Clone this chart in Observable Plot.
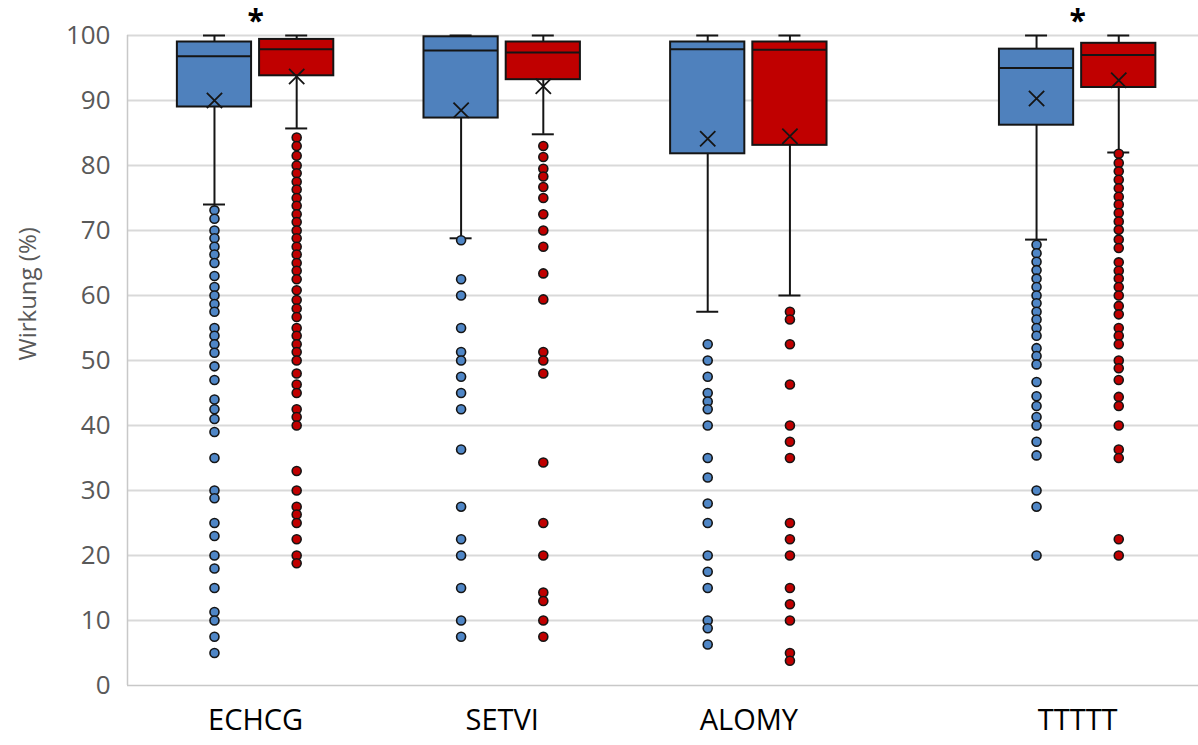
<!DOCTYPE html>
<html>
<head>
<meta charset="utf-8">
<script src="https://cdn.jsdelivr.net/npm/d3@7"></script>
<script src="https://cdn.jsdelivr.net/npm/@observablehq/plot@0.6"></script>
<style>
  html, body { margin: 0; padding: 0; background: #fff; }
  #chart svg { display: block; }
</style>
</head>
<body>
<div id="chart"></div>
<script>
// ---- data ----
const categories = ["ECHCG", "SETVI", "ALOMY", "TTTTT"];
const seriesNames = ["Serie 1", "Serie 2"];
const significant = ["ECHCG", "TTTTT"];
const yTicks = [0, 10, 20, 30, 40, 50, 60, 70, 80, 90, 100];
const yTitle = "Wirkung (%)";

const blueMax    = [100, 100, 100, 100];
const blueQ3     = [99.0, 99.8, 99.0, 97.9];
const blueMedian = [96.8, 97.7, 97.9, 95.0];
const blueQ1     = [89.0, 87.3, 81.8, 86.2];
const blueMin    = [74.0, 68.8, 57.5, 68.6];
const blueMean   = [90.0, 88.5, 84.1, 90.3];

const redMax    = [100, 100, 100, 100];
const redQ3     = [99.4, 99.0, 99.0, 98.8];
const redMedian = [97.9, 97.4, 97.8, 97.0];
const redQ1     = [93.8, 93.2, 83.1, 92.0];
const redMin    = [85.7, 84.8, 60.0, 82.0];
const redMean   = [93.7, 92.2, 84.5, 93.1];

const blueOutECHCG = [73.1, 71.8, 70, 68.8, 67.5, 66.3, 65, 63, 61.3, 60, 58.7, 57.5, 55, 53.8, 52.5, 51.2, 49.1, 47, 44, 42.5, 41, 39, 35, 30, 28.8, 25, 23, 20, 18, 15, 11.3, 10, 7.5, 5];
const redOutECHCG  = [84.3, 83, 81.5, 80, 78.8, 77.5, 76.3, 75, 73.8, 72.5, 71.3, 70, 68.8, 67.5, 66.3, 65, 63.8, 62.5, 60.8, 59.3, 58, 56.7, 55, 53.8, 52.5, 51.3, 50, 48, 46.3, 45, 42.5, 41.3, 40, 33, 30, 27.5, 26.3, 25, 22.5, 20, 18.8];
const blueOutSETVI = [68.5, 62.5, 60, 55, 51.3, 50, 47.5, 45, 42.5, 36.3, 27.5, 22.5, 20, 15, 10, 7.5];
const redOutSETVI  = [83, 81.3, 79.5, 78.3, 76.7, 75, 72.5, 70, 67.5, 63.4, 59.4, 51.3, 50, 48, 34.3, 25, 20, 14.3, 13, 10, 7.5];
const blueOutALOMY = [52.5, 50, 47.5, 45, 43.7, 42.5, 40, 35, 32, 28, 25, 20, 17.5, 15, 10, 8.8, 6.3];
const redOutALOMY  = [57.5, 56.3, 52.5, 46.3, 40, 37.5, 35, 25, 22.5, 20, 15, 12.5, 10, 5, 3.8];
const blueOutTTTTT = [67.8, 66.5, 65.2, 63.9, 62.6, 61.3, 60, 58.8, 57.5, 56.3, 55, 53.8, 51.9, 50.7, 49.4, 46.7, 44.5, 43, 41.3, 40, 37.5, 35.4, 30, 27.5, 20];
const redOutTTTTT  = [81.8, 80.4, 79.1, 77.8, 76.5, 75.2, 74, 72.7, 71.4, 70.1, 68.6, 67.3, 65.1, 63.8, 62.6, 61.3, 60, 58.4, 57.1, 55, 53.8, 52.5, 50, 48.8, 47, 44.4, 43, 40, 36.3, 35, 22.5, 20];

// ---- layout (not data) ----
const colors = ["#4F81BD", "#C00000"];
const dotColors = ["#4F86C6", "#C00000"];
const groupSlot = [0, 3, 6, 10];   // first box slot of each category on the x axis
const xDomain = [-0.558, 12.47];

// ---- build tables ----
const blueStats = {min: blueMin, q1: blueQ1, median: blueMedian, q3: blueQ3, max: blueMax, mean: blueMean};
const redStats  = {min: redMin, q1: redQ1, median: redMedian, q3: redQ3, max: redMax, mean: redMean};
const outliers = [
  [blueOutECHCG, redOutECHCG],
  [blueOutSETVI, redOutSETVI],
  [blueOutALOMY, redOutALOMY],
  [blueOutTTTTT, redOutTTTTT]
];

const stats = categories.flatMap((cat, ci) => [blueStats, redStats].map((s, si) => ({
  cat, series: seriesNames[si], slot: groupSlot[ci] + si,
  min: s.min[ci], q1: s.q1[ci], median: s.median[ci], q3: s.q3[ci], max: s.max[ci], mean: s.mean[ci]
})));
const outRows = categories.flatMap((cat, ci) => outliers[ci].flatMap((vals, si) =>
  vals.map(v => ({cat, series: seriesNames[si], slot: groupSlot[ci] + si, value: v}))));
const sigRows = significant.map(c => ({cat: c, center: groupSlot[categories.indexOf(c)] + 1}));

const center = d => d.slot + 0.5;
const ink = "#151515";
const lw = 2;

const chart = Plot.plot({
  width: 1198,
  height: 745,
  marginLeft: 127,
  marginRight: 0,
  marginTop: 35,
  marginBottom: 60,
  style: {fontFamily: "'Open Sans', sans-serif", background: "#fff"},
  x: {domain: xDomain, axis: null},
  y: {domain: [0, 100], axis: null},
  color: {domain: seriesNames, range: colors},
  marks: [
    Plot.ruleY(yTicks.filter(t => t > 0), {stroke: "#d9d9d9", strokeWidth: 2}),
    Plot.ruleY([0], {stroke: "#c8c8c8", strokeWidth: 1.5}),
    Plot.ruleX([xDomain[0]], {y1: 0, y2: 100, stroke: "#c8c8c8", strokeWidth: 1.5}),
    // whiskers
    Plot.ruleX(stats, {x: center, y1: "min", y2: "q1", stroke: ink, strokeWidth: lw}),
    Plot.ruleX(stats, {x: center, y1: "q3", y2: "max", stroke: ink, strokeWidth: lw}),
    Plot.ruleY(stats, {y: "min", x1: center, x2: center, insetLeft: -11, insetRight: -11, stroke: ink, strokeWidth: lw}),
    Plot.ruleY(stats, {y: "max", x1: center, x2: center, insetLeft: -11, insetRight: -11, stroke: ink, strokeWidth: lw}),
    // boxes
    Plot.rect(stats, {x1: "slot", x2: d => d.slot + 1, y1: "q1", y2: "q3", fill: "series", insetLeft: 4, insetRight: 4, stroke: ink, strokeWidth: lw}),
    Plot.ruleY(stats, {y: "median", x1: "slot", x2: d => d.slot + 1, insetLeft: 4, insetRight: 4, stroke: ink, strokeWidth: lw}),
    // means
    Plot.dot(stats, {x: center, y: "mean", symbol: "times", r: 7, stroke: ink, strokeWidth: 1.8}),
    // outliers
    Plot.dot(outRows, {x: center, y: "value", r: 4.5, fill: d => dotColors[seriesNames.indexOf(d.series)], stroke: ink, strokeWidth: 1.6}),
    // significance
    Plot.text(sigRows, {x: "center", y: 100, text: () => "*", dy: -14, fontSize: 30, fontWeight: "bold", fill: "#000"}),
    // axes
    Plot.axisY({ticks: yTicks, tickSize: 0, tickPadding: 17, fontSize: 26, fill: "#595959", label: null}),
    Plot.text([yTitle], {frameAnchor: "left", dx: -99, rotate: -90, fontSize: 24, fill: "#595959", text: d => d}),
    Plot.axisX({ticks: groupSlot.map(s => s + 1), tickFormat: t => categories[groupSlot.indexOf(t - 1)],
      tickSize: 0, tickPadding: 24, fontSize: 29, fill: "#000", label: null})
  ]
});
document.getElementById("chart").appendChild(chart);
</script>
</body>
</html>
